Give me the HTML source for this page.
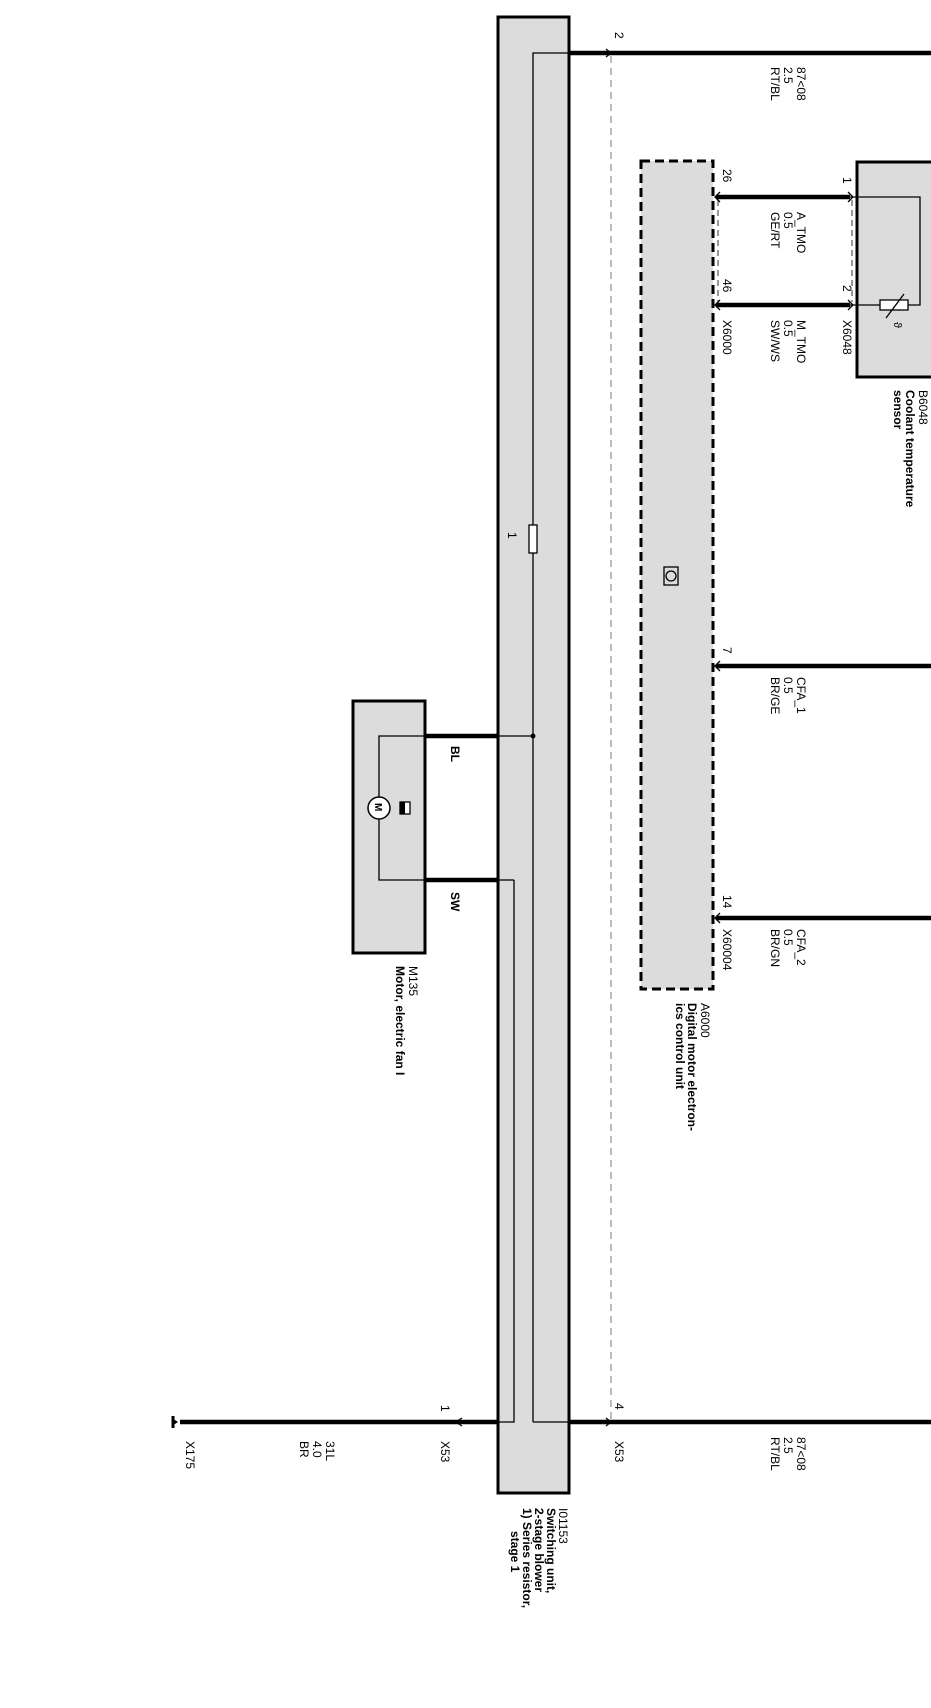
<!DOCTYPE html>
<html><head><meta charset="utf-8"><style>
html,body{margin:0;padding:0;background:#fff;}
svg{display:block;font-family:"Liberation Sans",Arial,sans-serif;}
text{font-size:12px;fill:#000;}
</style></head><body>
<svg width="931" height="1708" viewBox="0 0 931 1708">
<!-- main switching unit box -->
<rect x="498" y="17" width="71" height="1476" fill="#dcdcdc" stroke="#000" stroke-width="3"/>
<!-- grey dashed ground line -->
<line x1="611" y1="56" x2="611" y2="1420" stroke="#999" stroke-width="1.3" stroke-dasharray="7,5"/>
<!-- top wire -->
<polyline points="533,1422 533,53 569,53" fill="none" stroke="#000" stroke-width="1.3"/>
<line x1="569" y1="53" x2="931" y2="53" stroke="#000" stroke-width="4.5"/>
<path d="M606,49 L611,53 L606,57" fill="none" stroke="#000" stroke-width="1.3"/>
<!-- fuse -->
<rect x="529" y="525" width="8" height="28" fill="#fff" stroke="#000" stroke-width="1.3"/>
<text transform="rotate(90 508 532)" x="508" y="532">1</text>
<!-- bottom wires -->
<polyline points="533,1422 569,1422" fill="none" stroke="#000" stroke-width="1.3"/>
<line x1="569" y1="1422" x2="931" y2="1422" stroke="#000" stroke-width="4.5"/>
<path d="M606,1418 L611,1422 L606,1426" fill="none" stroke="#000" stroke-width="1.3"/>
<polyline points="514,880 514,1422 498,1422" fill="none" stroke="#000" stroke-width="1.3"/>
<line x1="180" y1="1422" x2="498" y2="1422" stroke="#000" stroke-width="4.5"/>
<path d="M462,1418 L456,1422 L462,1426" fill="none" stroke="#000" stroke-width="1.3"/>
<polygon points="172,1418 172,1426 178,1422" fill="#000"/>
<line x1="173" y1="1416" x2="173" y2="1428" stroke="#000" stroke-width="3"/>
<!-- motor -->
<rect x="353" y="701" width="72" height="252" fill="#dcdcdc" stroke="#000" stroke-width="3"/>
<polyline points="425,736 379,736 379,880 425,880" fill="none" stroke="#000" stroke-width="1.3"/>
<line x1="425" y1="736" x2="498" y2="736" stroke="#000" stroke-width="4.5"/>
<line x1="425" y1="880" x2="498" y2="880" stroke="#000" stroke-width="4.5"/>
<line x1="498" y1="736" x2="533" y2="736" stroke="#000" stroke-width="1.3"/>
<line x1="498" y1="880" x2="514" y2="880" stroke="#000" stroke-width="1.3"/>
<circle cx="533" cy="736" r="2.5" fill="#000"/>
<circle cx="379" cy="808" r="11" fill="#fff" stroke="#000" stroke-width="1.5"/>
<text transform="rotate(90 375 803)" x="375" y="803" style="font-size:10px;font-weight:bold">M</text>
<rect x="400" y="802" width="10" height="12" fill="#fff" stroke="#000" stroke-width="1.3"/>
<rect x="400" y="802" width="5" height="12" fill="#000"/>
<text transform="rotate(90 451 746)" x="451" y="746" style="font-weight:bold">BL</text>
<text transform="rotate(90 451 892)" x="451" y="892" style="font-weight:bold">SW</text>
<text transform="rotate(90 409 966)" x="409" y="966">M135</text>
<text transform="rotate(90 396 966)" x="396" y="966" style="font-weight:bold">Motor, electric fan I</text>
<!-- DME box -->
<rect x="641" y="161" width="72" height="828" fill="#dcdcdc" stroke="#000" stroke-width="3" stroke-dasharray="9,5"/>
<rect x="664" y="567" width="14" height="18" fill="none" stroke="#000" stroke-width="1.3"/>
<circle cx="671" cy="576" r="5" fill="none" stroke="#000" stroke-width="1.3"/>
<!-- sensor -->
<rect x="857" y="162" width="80" height="215" fill="#dcdcdc" stroke="#000" stroke-width="3"/>
<polyline points="850,197 920,197 920,305 850,305" fill="none" stroke="#000" stroke-width="1.3"/>
<rect x="880" y="300" width="28" height="10" fill="#fff" stroke="#000" stroke-width="1.3"/>
<line x1="886" y1="318" x2="904" y2="294" stroke="#000" stroke-width="1.3"/>
<text transform="rotate(90 894 322)" x="894" y="322" style="font-size:11px">ϑ</text>
<line x1="716" y1="197" x2="850" y2="197" stroke="#000" stroke-width="4.5"/>
<line x1="716" y1="305" x2="850" y2="305" stroke="#000" stroke-width="4.5"/>
<line x1="718" y1="200" x2="718" y2="302" stroke="#555" stroke-width="1.2" stroke-dasharray="6,4"/>
<line x1="852" y1="200" x2="852" y2="302" stroke="#555" stroke-width="1.2" stroke-dasharray="6,4"/>
<path d="M720,192 L715,197 L720,202 M720,300 L715,305 L720,310 M848,192 L853,197 L848,202 M848,300 L853,305 L848,310" fill="none" stroke="#000" stroke-width="1.3"/>
<line x1="716" y1="666" x2="931" y2="666" stroke="#000" stroke-width="4.5"/>
<line x1="716" y1="918" x2="931" y2="918" stroke="#000" stroke-width="4.5"/>
<path d="M720,661 L715,666 L720,671 M720,913 L715,918 L720,923" fill="none" stroke="#000" stroke-width="1.3"/>
<!-- labels -->
<g>
<text transform="rotate(90 615 32)" x="615" y="32">2</text>
<text transform="rotate(90 797 67)" x="797" y="67">87&lt;08</text>
<text transform="rotate(90 784 67)" x="784" y="67">2.5</text>
<text transform="rotate(90 771 67)" x="771" y="67">RT/BL</text>

<text transform="rotate(90 723 169)" x="723" y="169">26</text>
<text transform="rotate(90 843 177)" x="843" y="177">1</text>
<text transform="rotate(90 797 212)" x="797" y="212">A_TMO</text>
<text transform="rotate(90 784 212)" x="784" y="212">0.5</text>
<text transform="rotate(90 771 212)" x="771" y="212">GE/RT</text>
<text transform="rotate(90 723 279)" x="723" y="279">46</text>
<text transform="rotate(90 843 285)" x="843" y="285">2</text>
<text transform="rotate(90 723 320)" x="723" y="320">X6000</text>
<text transform="rotate(90 843 320)" x="843" y="320">X6048</text>
<text transform="rotate(90 797 320)" x="797" y="320">M_TMO</text>
<text transform="rotate(90 784 320)" x="784" y="320">0.5</text>
<text transform="rotate(90 771 320)" x="771" y="320">SW/WS</text>
<text transform="rotate(90 919 390)" x="919" y="390">B6048</text>
<text transform="rotate(90 906 390)" x="906" y="390" style="font-weight:bold">Coolant temperature</text>
<text transform="rotate(90 894 390)" x="894" y="390" style="font-weight:bold">sensor</text>

<text transform="rotate(90 723 647)" x="723" y="647">7</text>
<text transform="rotate(90 797 677)" x="797" y="677">CFA_1</text>
<text transform="rotate(90 784 677)" x="784" y="677">0.5</text>
<text transform="rotate(90 771 677)" x="771" y="677">BR/GE</text>
<text transform="rotate(90 723 895)" x="723" y="895">14</text>
<text transform="rotate(90 723 929)" x="723" y="929">X60004</text>
<text transform="rotate(90 797 929)" x="797" y="929">CFA_2</text>
<text transform="rotate(90 784 929)" x="784" y="929">0.5</text>
<text transform="rotate(90 771 929)" x="771" y="929">BR/GN</text>
<text transform="rotate(90 701 1003)" x="701" y="1003">A6000</text>
<text transform="rotate(90 688 1003)" x="688" y="1003" style="font-weight:bold">Digital motor electron-</text>
<text transform="rotate(90 676 1003)" x="676" y="1003" style="font-weight:bold">ics control unit</text>

<text transform="rotate(90 441 1405)" x="441" y="1405">1</text>
<text transform="rotate(90 441 1441)" x="441" y="1441">X53</text>
<text transform="rotate(90 615 1403)" x="615" y="1403">4</text>
<text transform="rotate(90 615 1441)" x="615" y="1441">X53</text>
<text transform="rotate(90 797 1437)" x="797" y="1437">87&lt;08</text>
<text transform="rotate(90 784 1437)" x="784" y="1437">2.5</text>
<text transform="rotate(90 771 1437)" x="771" y="1437">RT/BL</text>
<text transform="rotate(90 326 1441)" x="326" y="1441">31L</text>
<text transform="rotate(90 313 1441)" x="313" y="1441">4.0</text>
<text transform="rotate(90 300 1441)" x="300" y="1441">BR</text>
<text transform="rotate(90 186 1441)" x="186" y="1441">X175</text>

<text transform="rotate(90 559 1508)" x="559" y="1508">I01153</text>
<text transform="rotate(90 547 1508)" x="547" y="1508" style="font-weight:bold">Switching unit,</text>
<text transform="rotate(90 535 1508)" x="535" y="1508" style="font-weight:bold">2-stage blower</text>
<text transform="rotate(90 523 1508)" x="523" y="1508" style="font-weight:bold">1) Series resistor,</text>
<text transform="rotate(90 511 1531)" x="511" y="1531" style="font-weight:bold">stage 1</text>
</g>
</svg>
</body></html>
